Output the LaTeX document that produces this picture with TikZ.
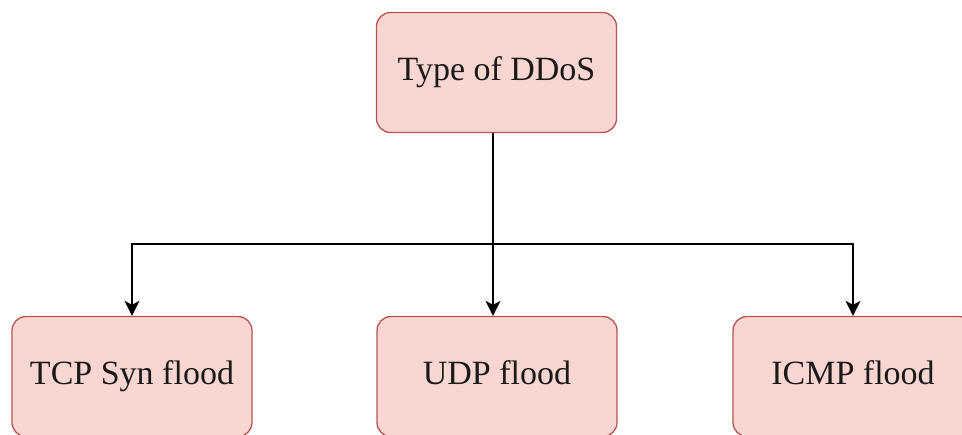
\documentclass[tikz,border=0pt]{standalone}
\usepackage{fontspec}
\setmainfont{Liberation Serif}
\usetikzlibrary{arrows.meta}
\definecolor{boxfill}{HTML}{F9D6D2}
\definecolor{boxline}{HTML}{B85450}
\definecolor{txt}{HTML}{1A1A1A}
\tikzset{
  ddbox/.style={draw=boxline, fill=boxfill, line width=1.3pt, rounded corners=14pt,
    minimum width=240pt, minimum height=120pt, inner sep=0pt,
    text height=22pt, text depth=6pt,
    font=\fontsize{34}{40}\selectfont, text=txt},
  conn/.style={draw=black, line width=1.7pt, -{Stealth[length=15pt,width=15pt,inset=4pt]}}
}
\begin{document}
\begin{tikzpicture}[x=1pt,y=-1pt]
\useasboundingbox (0,0) rectangle (962,435);
\node[ddbox] (top) at (496.5,72.5) {Type of DDoS};
\node[ddbox] (left) at (132,376.5) {TCP Syn flood};
\node[ddbox] (mid) at (497,376.5) {UDP flood};
\node[ddbox] (right) at (853,376.5) {ICMP flood};
\coordinate (j) at (493,244);
\draw[conn] (top.south -| j) -- (mid.north -| j);
\draw[conn] (j) -| (left.north);
\draw[conn] (j) -| (right.north);
\end{tikzpicture}
\end{document}
